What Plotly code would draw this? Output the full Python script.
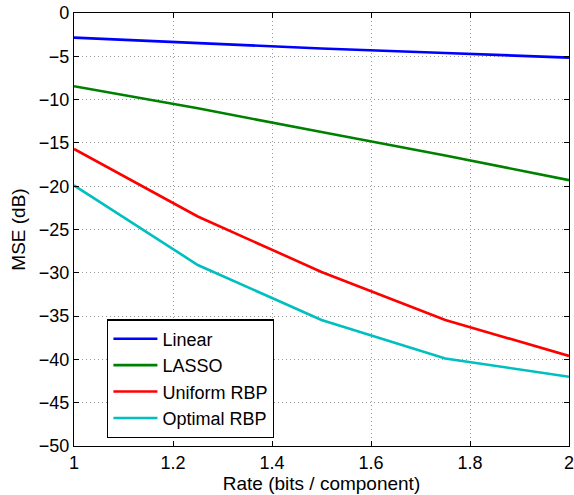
import plotly.graph_objects as go

rate = [1.0, 1.25, 1.5, 1.75, 2.0]
linear = [-2.84, -3.46, -4.1, -4.62, -5.15]
lasso = [-8.46, -11.0, -13.75, -16.45, -19.3]
uniform_rbp = [-15.7, -23.5, -29.9, -35.45, -39.6]
optimal_rbp = [-19.9, -29.1, -35.45, -39.9, -42.0]

names = ["Linear", "LASSO", "Uniform RBP", "Optimal RBP"]
series = [linear, lasso, uniform_rbp, optimal_rbp]
colors = ["#0000ff", "#008000", "#ff0000", "#00bfbf"]

xticks = [1, 1.2, 1.4, 1.6, 1.8, 2]
yticks = [0, -5, -10, -15, -20, -25, -30, -35, -40, -45, -50]

fig = go.Figure()
for n, s, c in zip(names, series, colors):
    fig.add_trace(go.Scatter(x=rate, y=s, mode="lines", name=n,
                             line=dict(color=c, width=2.6)))

font = "Liberation Sans, Arial, Helvetica, sans-serif"
axis_common = dict(
    showline=True, linecolor="black", linewidth=1.2, mirror="ticks",
    ticks="inside", ticklen=5, tickcolor="black",
    showgrid=True, gridcolor="#9a9a9a", griddash="1px,3px", gridwidth=1,
    zeroline=False, automargin=False, ticklabeloverflow="allow",
    tickfont=dict(size=18, color="black", family=font),
)
fig.update_layout(
    width=574, height=495,
    margin=dict(l=74, r=5, t=13, b=49),
    paper_bgcolor="white", plot_bgcolor="white",
    font=dict(family=font, color="black"),
    xaxis=dict(range=[1, 2], tickvals=xticks, ticktext=[f"{v:g}" for v in xticks],
               title=dict(text="Rate (bits / component)", font=dict(size=19), standoff=2),
               **axis_common),
    yaxis=dict(range=[-50, 0], tickvals=yticks,
               title=dict(text="MSE (dB)", font=dict(size=19), standoff=8),
               **axis_common),
    legend=dict(x=0.0667, y=0.293, xanchor="left", yanchor="top",
                bordercolor="black", borderwidth=1.4, bgcolor="white",
                font=dict(size=18, color="black", family=font),
                itemwidth=44, tracegroupgap=0),
    showlegend=True,
)
fig.write_html("out.html", config={"displayModeBar": False},
               post_script="document.body.style.margin='0';document.body.style.padding='0';document.body.style.overflow='hidden';")
